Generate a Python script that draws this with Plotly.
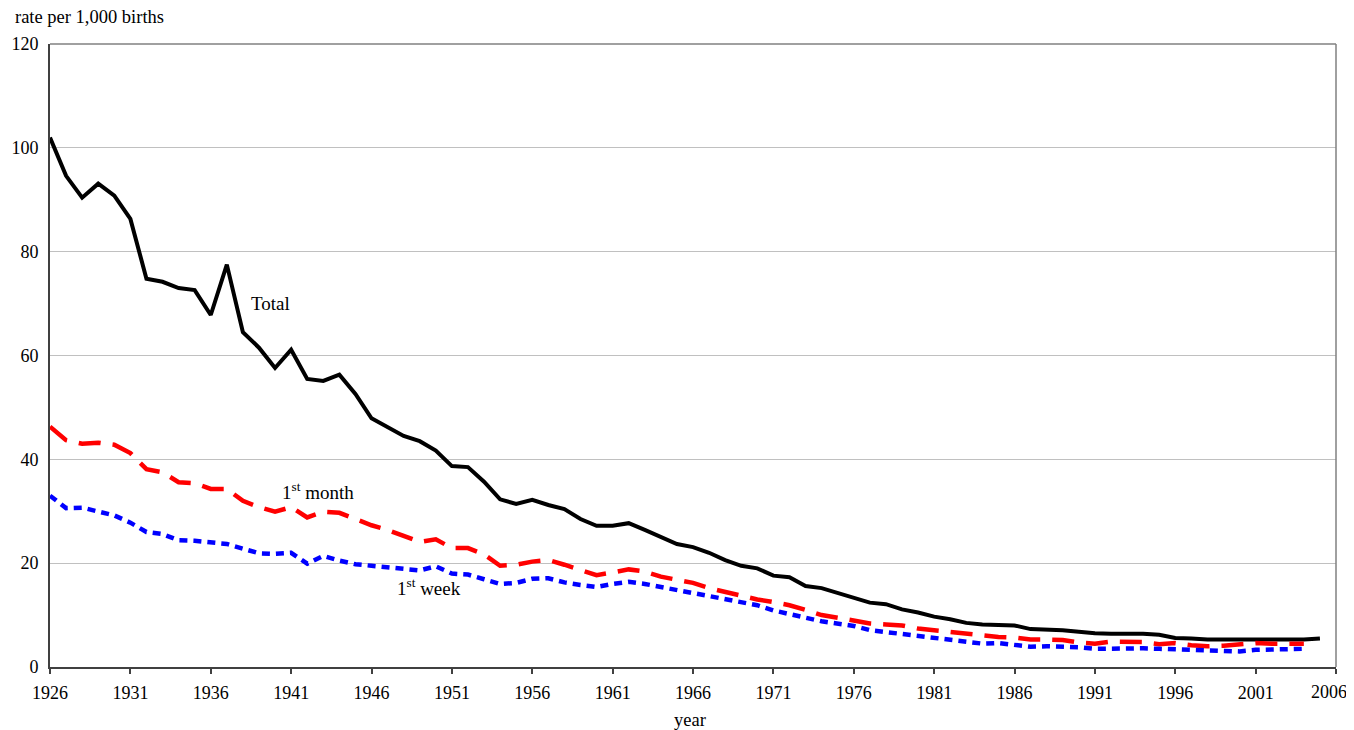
import plotly.graph_objects as go

years = list(range(1926, 2006))

total = [102.0, 94.6, 90.4, 93.1, 90.8, 86.3, 74.8, 74.2, 73.0, 72.6,
         67.8, 77.5, 64.5, 61.5, 57.6, 61.1, 55.5, 55.1, 56.3, 52.6,
         47.9, 46.3, 44.5, 43.5, 41.7, 38.7, 38.5, 35.7, 32.3, 31.4,
         32.2, 31.2, 30.4, 28.5, 27.2, 27.2, 27.7, 26.4, 25.0, 23.7,
         23.1, 22.0, 20.6, 19.5, 19.0, 17.6, 17.3, 15.6, 15.2, 14.2,
         13.4, 12.4, 12.1, 11.1, 10.5, 9.7, 9.2, 8.5, 8.2, 8.1,
         8.0, 7.3, 7.2, 7.1, 6.8, 6.5, 6.4, 6.4, 6.4, 6.2,
         5.6, 5.5, 5.3, 5.3, 5.3, 5.2, 5.3, 5.3, 5.3, 5.5]

month_years = list(range(1926, 2005))
first_month = [46.3, 43.7, 43.0, 43.2, 42.8, 41.2, 38.1, 37.5, 35.6, 35.4,
               34.3, 34.3, 32.0, 30.8, 29.9, 30.8, 28.8, 29.9, 29.7, 28.4,
               27.3, 26.4, 25.3, 24.1, 24.6, 22.9, 22.9, 21.7, 19.5, 19.7,
               20.3, 20.6, 19.7, 18.7, 17.7, 18.2, 18.8, 18.4, 17.4, 16.8,
               16.2, 15.2, 14.4, 13.6, 13.0, 12.5, 11.9, 11.0, 10.0, 9.5,
               9.0, 8.4, 8.2, 8.0, 7.4, 7.1, 6.7, 6.4, 6.0, 5.8,
               5.7, 5.3, 5.3, 5.2, 4.7, 4.5, 4.9, 4.8, 4.8, 4.4,
               4.6, 4.2, 4.0, 4.1, 4.4, 4.6, 4.5, 4.5, 4.5]

week_years = list(range(1926, 2005))
first_week = [33.0, 30.6, 30.7, 30.0, 29.2, 27.8, 26.0, 25.6, 24.4, 24.3,
              23.9, 23.7, 22.8, 21.9, 21.8, 22.0, 19.9, 21.4, 20.5, 19.8,
              19.5, 19.3, 18.9, 18.6, 19.4, 18.0, 17.8, 16.9, 16.0, 16.2,
              17.0, 17.1, 16.3, 15.8, 15.4, 16.0, 16.4, 16.0, 15.4, 14.7,
              14.2, 13.5, 13.0, 12.4, 11.9, 10.9, 10.3, 9.5, 8.8, 8.3,
              7.9, 7.1, 6.7, 6.3, 5.9, 5.6, 5.2, 4.8, 4.5, 4.6,
              4.3, 3.9, 4.0, 4.0, 3.8, 3.5, 3.6, 3.6, 3.6, 3.5,
              3.4, 3.4, 3.1, 3.1, 3.0, 3.3, 3.4, 3.4, 3.5]

x_ticks = list(range(1926, 2007, 5))
x_tick_labels = [str(v) for v in x_ticks]
y_ticks = [0, 20, 40, 60, 80, 100, 120]

FONT = "Liberation Serif, Times New Roman, serif"

fig = go.Figure()
fig.add_trace(go.Scatter(x=years, y=total, mode="lines", name="Total",
                         line=dict(color="black", width=4)))
fig.add_trace(go.Scatter(x=month_years, y=first_month, mode="lines", name="1st month",
                         line=dict(color="#ff0000", width=4.5, dash="22px,12px")))
fig.add_trace(go.Scatter(x=week_years, y=first_week, mode="lines", name="1st week",
                         line=dict(color="#0000ff", width=4.5, dash="8px,6px")))

fig.add_annotation(x=1939.7, y=70.1, text="Total", showarrow=False,
                   font=dict(family=FONT, size=19, color="black"))
fig.add_annotation(x=1942.7, y=33.9, text="1<sup>st</sup> month", showarrow=False,
                   font=dict(family=FONT, size=19, color="black"))
fig.add_annotation(x=1949.6, y=15.4, text="1<sup>st</sup> week", showarrow=False,
                   font=dict(family=FONT, size=19, color="black"))

fig.add_annotation(xref="paper", yref="paper", x=-0.0288, y=1.0433,
                   xanchor="left", yanchor="middle", text="rate per 1,000 births",
                   showarrow=False, font=dict(family=FONT, size=18.5, color="black"))
fig.add_annotation(xref="paper", yref="paper", x=0.4977, y=-0.085,
                   xanchor="center", yanchor="middle", text="year",
                   showarrow=False, font=dict(family=FONT, size=18.5, color="black"))

# last tick label kept inside the page edge, as in the reference
fig.add_annotation(xref="paper", yref="paper", x=1.0093, y=-0.0401,
                   xanchor="right", yanchor="middle", text=x_tick_labels[-1],
                   showarrow=False, borderpad=0,
                   font=dict(family=FONT, size=18, color="black"))

# top and right frame of plot area
fig.add_shape(type="line", xref="paper", yref="paper", x0=0, x1=1, y0=1, y1=1,
              line=dict(color="#808080", width=1.5))
fig.add_shape(type="line", xref="paper", yref="paper", x0=1, x1=1, y0=0, y1=1,
              line=dict(color="#808080", width=1.5))

# the page body adds an 8px offset, so the figure is sized to fit the window
fig.update_layout(
    width=1346, height=722,
    margin=dict(l=42, r=18, t=36, b=63),
    paper_bgcolor="white", plot_bgcolor="white",
    showlegend=False,
    font=dict(family=FONT, size=18, color="black"),
    xaxis=dict(range=[1926, 2006], tickmode="array", tickvals=x_ticks,
               ticktext=x_tick_labels[:-1] + [""], automargin=False,
               showgrid=False, zeroline=False, showline=True,
               linecolor="#404040", linewidth=2,
               ticks="outside", ticklen=5, tickcolor="#404040", tickwidth=1.5,
               ticklabelstandoff=3,
               tickfont=dict(family=FONT, size=18, color="black")),
    yaxis=dict(range=[0, 120], tickmode="array", tickvals=y_ticks, automargin=False,
               showgrid=True, gridcolor="#c0c0c0", gridwidth=1,
               zeroline=False, showline=True, linecolor="#404040", linewidth=2,
               ticks="", ticklabelstandoff=6,
               tickfont=dict(family=FONT, size=18, color="black")),
)

fig.write_html("out.html")
